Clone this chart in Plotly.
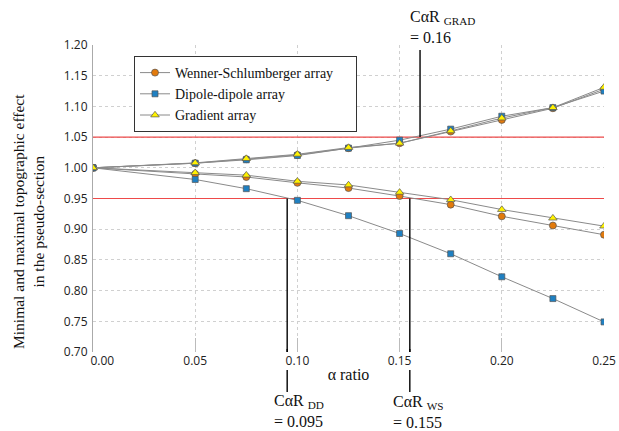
import plotly.graph_objects as go

alpha = [0.0, 0.05, 0.075, 0.1, 0.125, 0.15, 0.175, 0.2, 0.225, 0.25]

ws_max = [1.000, 1.0075, 1.014, 1.021, 1.032, 1.040, 1.059, 1.078, 1.097, 1.128]
dd_max = [1.000, 1.0075, 1.013, 1.020, 1.032, 1.045, 1.063, 1.084, 1.098, 1.125]
grad_max = [1.000, 1.0080, 1.015, 1.022, 1.033, 1.040, 1.060, 1.081, 1.098, 1.131]

ws_min = [1.000, 0.990, 0.985, 0.9755, 0.967, 0.954, 0.940, 0.921, 0.906, 0.891]
dd_min = [1.000, 0.981, 0.966, 0.947, 0.922, 0.893, 0.860, 0.8225, 0.787, 0.749]
grad_min = [1.000, 0.992, 0.988, 0.978, 0.972, 0.960, 0.948, 0.932, 0.918, 0.905]

x_ticks = [0.0, 0.05, 0.10, 0.15, 0.20, 0.25]
x_ticktext = ["\u00a0\u00a0\u00a0\u00a0\u00a0\u00a00.00", "0.05", "0.10", "0.15", "0.20", "0.25"]
y_ticks = [0.70, 0.75, 0.80, 0.85, 0.90, 0.95, 1.00, 1.05, 1.10, 1.15, 1.20]
thresholds = [1.05, 0.95]
critical = [("GRAD", 0.16), ("DD", 0.095), ("WS", 0.155)]

W, H = 619, 431
L, R, T, B = 93, 15, 45, 79
pw, ph = W - L - R, H - T - B


def px(xp):
    return (xp - L) / pw


def py(yp):
    return (H - B - yp) / ph


serif = "Liberation Serif"
sans = "Open Sans"
pad = "\u00a0" * 5

fig = go.Figure()

for t in thresholds:
    fig.add_trace(go.Scatter(
        x=[0, 0.25], y=[t, t], mode="lines", showlegend=False, hoverinfo="skip",
        line=dict(color="#EE4A4A", width=1.1),
    ))

series = [
    ("Wenner-Schlumberger array" + pad, ws_max, ws_min, "circle", "#E27A0C", 7),
    ("Dipole-dipole array", dd_max, dd_min, "square", "#1F80C2", 6),
    ("Gradient array", grad_max, grad_min, "triangle-up", "#FFF200", 7.5),
]
for name, ymax, ymin, sym, col, sz in series:
    for i, ys in enumerate([ymax, ymin]):
        fig.add_trace(go.Scatter(
            x=alpha, y=ys, mode="lines+markers", name=name,
            legendgroup=name, showlegend=(i == 0),
            line=dict(color="#8a8a8a", width=1),
            marker=dict(symbol=sym, size=sz, color=col,
                        line=dict(color="#555555", width=0.7)),
        ))

line_style = dict(color="black", width=1.4)
fig.add_shape(type="line", xref="x", yref="y", x0=0.16, x1=0.16, y0=1.05, y1=1.192,
              line=line_style)
for key, xv in critical[1:]:
    fig.add_shape(type="line", xref="x", yref="y", x0=xv, x1=xv, y0=0.95, y1=0.70,
                  line=line_style)
    fig.add_shape(type="line", xref="x", yref="paper", x0=xv, x1=xv,
                  y0=py(352), y1=py(349), line=line_style)
    fig.add_shape(type="line", xref="x", yref="paper", x0=xv, x1=xv,
                  y0=py(370), y1=py(392), line=line_style)

ann_font = dict(family=serif, size=16, color="#111111")
labels = {
    "GRAD": (408, 27),
    "DD": (272, 411),
    "WS": (391, 412),
}
for key, xv in critical:
    xp, yp = labels[key]
    fig.add_annotation(
        x=px(xp), y=py(yp), xref="paper", yref="paper",
        text=f"C\u03b1R <sub>{key}</sub><br>= {xv:g}",
        showarrow=False, xanchor="left", yanchor="middle", align="left",
        font=ann_font,
    )

fig.add_annotation(
    x=px(28), y=py(222), xref="paper", yref="paper",
    text="Minimal and maximal topographic effect<br>in the pseudo-section",
    textangle=-90, showarrow=False, font=dict(family=serif, size=15.5, color="#111111"),
    xanchor="center", yanchor="middle",
)

fig.update_layout(
    width=W, height=H,
    margin=dict(l=L, r=R, t=T, b=B, autoexpand=False),
    paper_bgcolor="white", plot_bgcolor="white",
    showlegend=True,
    legend=dict(
        x=px(134), y=py(56), xanchor="left", yanchor="top",
        bgcolor="white", bordercolor="#333333", borderwidth=1,
        font=dict(family=serif, size=14, color="#111111"),
        tracegroupgap=0,
    ),
    xaxis=dict(
        range=[0, 0.25], tickvals=x_ticks, ticktext=x_ticktext,
        showgrid=True, gridcolor="#d0d0d0", griddash="dot", gridwidth=1,
        zeroline=False, showline=False,
        ticks="inside", ticklen=14, tickcolor="#bbbbbb",
        tickfont=dict(family=sans, size=12, color="#222222"),
        title=dict(text="\u03b1 ratio", font=dict(family=serif, size=16, color="#111111"),
                   standoff=0),
    ),
    yaxis=dict(
        range=[0.70, 1.20], tickvals=y_ticks, tickformat=".2f",
        showgrid=True, gridcolor="#d0d0d0", griddash="dot", gridwidth=1,
        zeroline=False, showline=True, linecolor="#aaaaaa", linewidth=1,
        ticks="", ticklabelstandoff=2,
        tickfont=dict(family=sans, size=12, color="#222222"),
    ),
)

fig.write_html("out.html", config={"displayModeBar": False},
               post_script="document.body.style.margin='0';")
